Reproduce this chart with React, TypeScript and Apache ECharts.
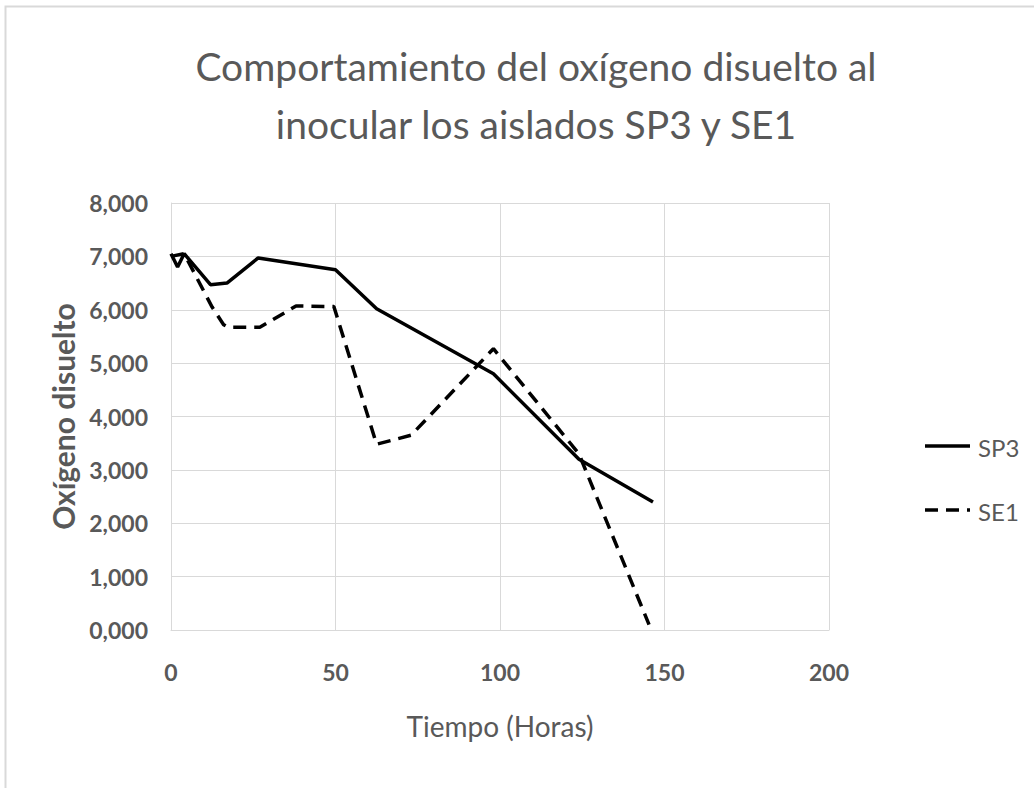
import React, { useEffect, useRef } from "react";
import * as echarts from "echarts";

const titleLines = ["Comportamiento del oxígeno disuelto al", "inocular los aislados SP3 y SE1"];
const xAxisName = "Tiempo (Horas)";
const yAxisName = "Oxígeno disuelto";
const seriesNames = ["SP3", "SE1"];

const sp3Hours = [0, 2, 4, 12, 17, 26.5, 50, 62.5, 98, 124, 146.5];
const sp3Values = [7.05, 6.8, 7.05, 6.47, 6.5, 6.97, 6.75, 6.02, 4.8, 3.2, 2.4];

const se1Hours = [0, 4, 12.5, 16, 17.5, 27, 38, 49.5, 62.5, 73, 98, 124, 145.3];
const se1Values = [7.0, 7.05, 6.05, 5.72, 5.67, 5.67, 6.07, 6.06, 3.48, 3.65, 5.27, 3.3, 0.1];

const FONT = "Lato, 'Open Sans', sans-serif";
const GREY = "#595959";
const DASH = [13, 8];

export default function App() {
  const ref = useRef<HTMLDivElement>(null);
  useEffect(() => {
    document.body.style.margin = "0";
    const chart = echarts.init(ref.current!, null, { renderer: "svg" });
    const sp3 = sp3Hours.map((h, i) => [h, sp3Values[i]]);
    const se1 = se1Hours.map((h, i) => [h, se1Values[i]]);
    const legendRows = [
      { name: seriesNames[0], y: 446, dash: null as number[] | null },
      { name: seriesNames[1], y: 510, dash: DASH },
    ];
    const legendGraphics: any[] = [];
    legendRows.forEach((r) => {
      legendGraphics.push({
        type: "line",
        shape: { x1: 925, y1: r.y, x2: 970, y2: r.y },
        style: { stroke: "#000000", lineWidth: 3.5, lineDash: r.dash || undefined },
        silent: true,
      });
      legendGraphics.push({
        type: "text",
        x: 978,
        y: r.y + 1,
        style: {
          text: r.name,
          fontFamily: FONT,
          fontSize: 24,
          fill: GREY,
          textVerticalAlign: "middle",
          verticalAlign: "middle",
        },
        silent: true,
      });
    });
    chart.setOption({
      animation: false,
      backgroundColor: "#ffffff",
      title: {
        text: titleLines.join("\n"),
        left: 531,
        top: 32,
        textAlign: "center",
        textStyle: { fontFamily: FONT, fontSize: 39, fontWeight: "normal", color: GREY, lineHeight: 58 },
      },
      graphic: [
        {
          type: "rect",
          shape: { x: 5.5, y: 6.5, width: 1100, height: 900 },
          style: { fill: "none", stroke: "#d9d9d9", lineWidth: 2 },
          silent: true,
        },
        ...legendGraphics,
      ],
      grid: { left: 171, right: 205, top: 203, bottom: 158 },
      xAxis: {
        type: "value",
        min: 0,
        max: 200,
        interval: 50,
        name: xAxisName,
        nameLocation: "middle",
        nameGap: 82,
        nameTextStyle: { fontFamily: FONT, fontSize: 28, color: GREY },
        axisLine: { show: true, lineStyle: { color: "#d9d9d9" } },
        axisTick: { show: false },
        splitLine: { show: true, lineStyle: { color: "#d9d9d9", width: 1 } },
        axisLabel: { fontFamily: FONT, fontSize: 23, fontWeight: "bold", color: GREY, margin: 30 },
      },
      yAxis: {
        type: "value",
        min: 0,
        max: 8,
        interval: 1,
        name: yAxisName,
        nameLocation: "middle",
        nameGap: 92,
        nameTextStyle: { fontFamily: FONT, fontSize: 30, fontWeight: "bold", color: GREY },
        axisLine: { show: true, lineStyle: { color: "#d9d9d9" } },
        axisTick: { show: false },
        splitLine: { show: true, lineStyle: { color: "#d9d9d9", width: 1 } },
        axisLabel: {
          fontFamily: FONT,
          fontSize: 23,
          fontWeight: "bold",
          color: GREY,
          margin: 23,
          formatter: (v: number) => v.toFixed(3).replace(".", ","),
        },
      },
      series: [
        {
          name: seriesNames[0],
          type: "line",
          data: sp3,
          showSymbol: false,
          symbol: "none",
          lineStyle: { color: "#000000", width: 3.5, type: "solid" },
          itemStyle: { color: "#000000" },
        },
        {
          name: seriesNames[1],
          type: "line",
          data: se1,
          showSymbol: false,
          symbol: "none",
          lineStyle: { color: "#000000", width: 3.5, type: DASH },
          itemStyle: { color: "#000000" },
        },
      ],
    });
    return () => chart.dispose();
  }, []);
  return <div ref={ref} style={{ position: "fixed", left: 0, top: 0, width: 1034, height: 788 }} />;
}
